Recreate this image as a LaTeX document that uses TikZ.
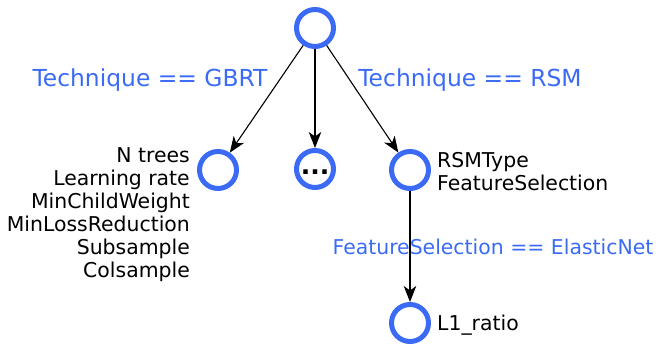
\documentclass[tikz,border=0pt]{standalone}
\usepackage{fontspec}
\setmainfont{DejaVu Sans}
\usetikzlibrary{arrows.meta}
\definecolor{nodeblue}{RGB}{59,107,245}
\tikzset{
  param/.style={circle, draw=nodeblue, line width=5pt, minimum size=37pt, inner sep=0pt},
  link/.style={draw=black, line width=1.1pt, -{Stealth[length=16pt,width=12.5pt,inset=4.5pt]}},
  cond/.style={text=nodeblue, font=\fontsize{20.4}{23}\selectfont, inner sep=0pt},
  toplabel/.style={cond, font=\fontsize{23.4}{26}\selectfont},
  plist/.style={font=\fontsize{20.4}{23}\selectfont, inner sep=0pt}
}
\begin{document}
\begin{tikzpicture}[x=1pt,y=-1pt]
  \useasboundingbox (0,0) rectangle (658,344);
  % tree nodes
  \node[param] (root) at (315,28) {};
  \node[param] (gbrt) at (218,170) {};
  \node[param, font=\fontsize{25}{25}\selectfont\bfseries] (other) at (315,169)
    {\smash{\raisebox{-6pt}{...}}};
  \node[param] (rsm) at (410,170) {};
  \node[param] (enet) at (410,323) {};
  % connectors
  \draw[link] (root) -- (gbrt);
  \draw[link] (root) -- (other);
  \draw[link] (root) -- (rsm);
  \draw[link] (rsm) -- (enet);
  % branch conditions
  \node[toplabel] (cgbrt) at (150,80) {Technique == GBRT};
  \node[toplabel] (crsm) at (470,80) {Technique == RSM};
  \node[cond] (cenet) at (493,247) {FeatureSelection == ElasticNet};
  % hyperparameter lists
  \node[plist, anchor=east, align=right] (lgbrt) at (190,215)
    {N trees\\Learning rate\\MinChildWeight\\MinLossReduction\\Subsample\\Colsample};
  \node[plist, anchor=west, align=left] (lrsm) at (437,172)
    {RSMType\\FeatureSelection};
  \node[plist, anchor=west] (lenet) at (437,325) {L1\_ratio};
\end{tikzpicture}
\end{document}
